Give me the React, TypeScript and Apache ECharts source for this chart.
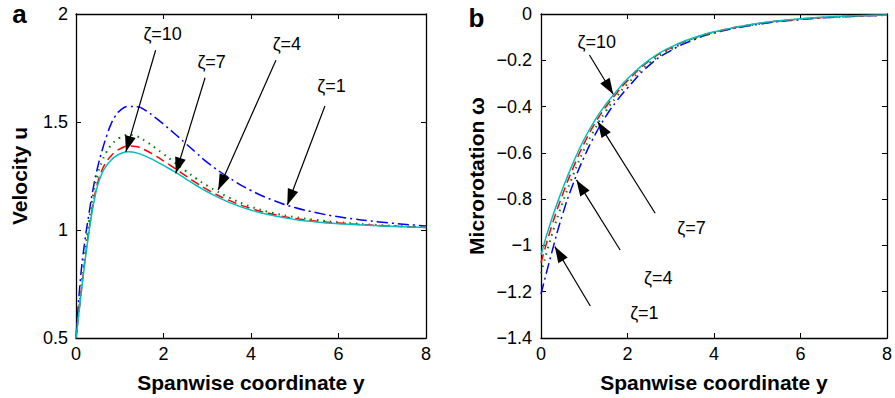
import React, { useEffect, useRef } from 'react';
import * as echarts from 'echarts';

// ---- Panel a: velocity u vs spanwise coordinate y ----
const xA = [0, 0.1, 0.2, 0.3, 0.4, 0.5, 0.6, 0.7, 0.8, 0.9, 1.0, 1.2, 1.4, 1.6, 1.8, 2.0, 2.25, 2.5, 2.75, 3.0, 3.5, 4.0, 4.5, 5.0, 5.5, 6.0, 7.0, 8.0];
const uZeta1 = [0.5, 0.77, 0.945, 1.08, 1.2, 1.295, 1.37, 1.435, 1.49, 1.528, 1.552, 1.572, 1.571, 1.552, 1.523, 1.49, 1.447, 1.402, 1.357, 1.313, 1.242, 1.183, 1.138, 1.104, 1.08, 1.061, 1.036, 1.019];
const uZeta4 = [0.5, 0.7, 0.885, 1.045, 1.17, 1.26, 1.32, 1.362, 1.392, 1.413, 1.427, 1.44, 1.433, 1.41, 1.382, 1.352, 1.313, 1.275, 1.238, 1.205, 1.15, 1.108, 1.079, 1.06, 1.046, 1.036, 1.022, 1.013];
const uZeta7 = [0.5, 0.68, 0.855, 1.005, 1.13, 1.222, 1.28, 1.318, 1.343, 1.362, 1.375, 1.389, 1.385, 1.368, 1.345, 1.32, 1.287, 1.252, 1.218, 1.187, 1.137, 1.1, 1.073, 1.054, 1.041, 1.032, 1.02, 1.012];
const uZeta10 = [0.5, 0.675, 0.845, 0.995, 1.12, 1.21, 1.265, 1.299, 1.323, 1.34, 1.352, 1.362, 1.356, 1.341, 1.321, 1.299, 1.27, 1.238, 1.206, 1.177, 1.128, 1.092, 1.067, 1.049, 1.037, 1.029, 1.018, 1.011];

// ---- Panel b: microrotation omega vs spanwise coordinate y ----
const xB = [0, 0.25, 0.5, 0.75, 1.0, 1.25, 1.5, 1.75, 2.0, 2.5, 3.0, 3.5, 4.0, 5.0, 6.0, 7.0, 8.0];
const wZeta1 = [-1.21, -1.03, -0.865, -0.73, -0.617, -0.522, -0.442, -0.376, -0.32, -0.222, -0.158, -0.114, -0.082, -0.045, -0.024, -0.012, -0.005];
const wZeta4 = [-1.12, -0.955, -0.815, -0.693, -0.585, -0.495, -0.42, -0.357, -0.302, -0.213, -0.153, -0.111, -0.081, -0.044, -0.023, -0.011, -0.005];
const wZeta7 = [-1.075, -0.915, -0.78, -0.662, -0.558, -0.472, -0.401, -0.342, -0.288, -0.203, -0.146, -0.107, -0.078, -0.042, -0.022, -0.011, -0.004];
const wZeta10 = [-1.04, -0.885, -0.755, -0.64, -0.54, -0.458, -0.39, -0.333, -0.28, -0.198, -0.143, -0.105, -0.077, -0.041, -0.021, -0.01, -0.004];

// Axis ranges / ticks
const xTicks = { min: 0, max: 8, interval: 2 };
const uTicks = { min: 0.5, max: 2, interval: 0.5 };
const wTicks = { min: -1.4, max: 0, interval: 0.2 };

// Annotation labels and arrows (data coordinates): [label, textX, textY, fromX, fromY, toX, toY]
const annotA: [string, number, number, number, number, number, number][] = [
  ['ζ=10', 1.98, 1.907, 1.82, 1.832, 1.14, 1.362],
  ['ζ=7', 3.10, 1.778, 2.95, 1.705, 2.28, 1.262],
  ['ζ=4', 4.82, 1.863, 4.57, 1.786, 3.25, 1.185],
  ['ζ=1', 5.84, 1.667, 5.69, 1.574, 4.83, 1.116],
];
const annotB: [string, number, number, number, number, number, number][] = [
  ['ζ=10', 1.29, -0.123, 1.12, -0.177, 1.67, -0.347],
  ['ζ=7', 3.48, -0.923, 2.64, -0.861, 1.31, -0.465],
  ['ζ=4', 2.71, -1.139, 1.83, -1.02, 0.82, -0.717],
  ['ζ=1', 2.39, -1.29, 1.14, -1.262, 0.32, -1.005],
];

const FONT = 'Liberation Sans, Arial, Helvetica, sans-serif';
const ARROW = 'path://M0,0 L6,16 L-6,16 Z';

const colors = { z1: '#0000ff', z4: '#008000', z7: '#ff0000', z10: '#00bfbf' };

function pairs(xs: number[], ys: number[]) {
  return xs.map((x, i) => [x, ys[i]]);
}

const axisLine = { show: true, onZero: false, lineStyle: { color: '#000', width: 1.3 } };
const axisTick = { show: true, inside: true, length: 5, lineStyle: { color: '#000', width: 1 } };
const nameStyle = { color: '#000', fontSize: 21, fontWeight: 'bold', fontFamily: FONT };

function mainX(gridIndex: number) {
  return {
    type: 'value', gridIndex, position: 'bottom', ...xTicks, axisLine, axisTick,
    axisLabel: { color: '#000', fontSize: 18, fontFamily: FONT, margin: 7 },
    splitLine: { show: false },
    name: 'Spanwise coordinate y', nameLocation: 'middle', nameGap: 34, nameTextStyle: nameStyle,
  };
}
function mirrorX(gridIndex: number) {
  return {
    type: 'value', gridIndex, position: 'top', ...xTicks, axisLine, axisTick,
    axisLabel: { show: false }, splitLine: { show: false },
  };
}
function mirrorY(gridIndex: number, ticks: any) {
  return {
    type: 'value', gridIndex, position: 'right', ...ticks, axisLine, axisTick,
    axisLabel: { show: false }, splitLine: { show: false },
  };
}

function lineSeries(name: string, data: number[][], color: string, type: any, axisIdx: number, width = 1.5) {
  return {
    type: 'line', name, data, xAxisIndex: axisIdx, yAxisIndex: axisIdx,
    showSymbol: false, symbol: 'none', smooth: 0.5,
    lineStyle: { color, width, type }, z: 2,
  };
}

function annotSeries(annots: typeof annotA, axisIdx: number) {
  return [
    {
      type: 'scatter', xAxisIndex: axisIdx, yAxisIndex: axisIdx, symbolSize: 1,
      itemStyle: { color: 'rgba(255,255,255,0)', opacity: 1 }, silent: true, z: 5,
      data: annots.map((a) => ({ name: a[0], value: [a[1], a[2]] })),
      label: {
        show: true, position: 'inside', formatter: '{b}', color: '#000', opacity: 1,
        fontSize: 18, fontFamily: FONT, textBorderWidth: 0,
      },
    },
    {
      type: 'line', xAxisIndex: axisIdx, yAxisIndex: axisIdx, data: [], silent: true, z: 6,
      markLine: {
        silent: true, animation: false, label: { show: false },
        lineStyle: { color: '#000', width: 1.2, type: 'solid' },
        data: annots.map((a) => [
          { coord: [a[3], a[4]], symbol: 'none' },
          { coord: [a[5], a[6]], symbol: ARROW, symbolSize: [11, 16], symbolOffset: [0, 8] },
        ]),
      },
    },
  ];
}

const option: any = {
  animation: false,
  backgroundColor: '#fff',
  textStyle: { fontFamily: FONT },
  grid: [
    { left: 76, right: 469, top: 14, bottom: 60 },
    { left: 541, right: 4, top: 14, bottom: 60 },
  ],
  xAxis: [mainX(0), mainX(1), mirrorX(0), mirrorX(1)],
  yAxis: [
    {
      type: 'value', gridIndex: 0, position: 'left', ...uTicks, axisLine, axisTick,
      axisLabel: { color: '#000', fontSize: 18, fontFamily: FONT, margin: 8 },
      splitLine: { show: false },
      name: 'Velocity u', nameLocation: 'middle', nameGap: 46, nameTextStyle: nameStyle,
    },
    {
      type: 'value', gridIndex: 1, position: 'left', ...wTicks, axisLine, axisTick,
      axisLabel: {
        color: '#000', fontSize: 18, fontFamily: FONT, margin: 9,
        formatter: (v: number) => String(Math.round(v * 10) / 10).replace('-', '−'),
      },
      splitLine: { show: false },
      name: 'Microrotation ω', nameLocation: 'middle', nameGap: 54, nameTextStyle: nameStyle,
    },
    mirrorY(0, uTicks),
    mirrorY(1, wTicks),
  ],
  graphic: [
    { type: 'text', x: 19.5, y: 14, style: { text: 'a', font: `bold 26px ${FONT}`, fill: '#000', textAlign: 'center', textVerticalAlign: 'middle' } },
    { type: 'text', x: 476.5, y: 18, style: { text: 'b', font: `bold 26px ${FONT}`, fill: '#000', textAlign: 'center', textVerticalAlign: 'middle' } },
  ],
  series: [
    lineSeries('ζ=1', pairs(xA, uZeta1), colors.z1, [11, 4, 2, 4], 0),
    lineSeries('ζ=4', pairs(xA, uZeta4), colors.z4, [1.5, 5], 0, 2),
    lineSeries('ζ=7', pairs(xA, uZeta7), colors.z7, [9, 5], 0),
    lineSeries('ζ=10', pairs(xA, uZeta10), colors.z10, 'solid', 0),
    lineSeries('ζ=1', pairs(xB, wZeta1), colors.z1, [11, 4, 2, 4], 1),
    lineSeries('ζ=4', pairs(xB, wZeta4), colors.z4, [1.5, 5], 1, 2),
    lineSeries('ζ=7', pairs(xB, wZeta7), colors.z7, [9, 5], 1),
    lineSeries('ζ=10', pairs(xB, wZeta10), colors.z10, 'solid', 1),
    ...annotSeries(annotA, 0),
    ...annotSeries(annotB, 1),
  ],
};

export default function App() {
  const ref = useRef<HTMLDivElement>(null);
  useEffect(() => {
    if (!ref.current) return;
    const chart = echarts.init(ref.current, null, { renderer: 'svg' });
    chart.setOption(option);
    return () => chart.dispose();
  }, []);
  return (
    <div
      ref={ref}
      style={{ position: 'fixed', left: 0, top: 0, width: 895, height: 398, background: '#fff' }}
    />
  );
}
